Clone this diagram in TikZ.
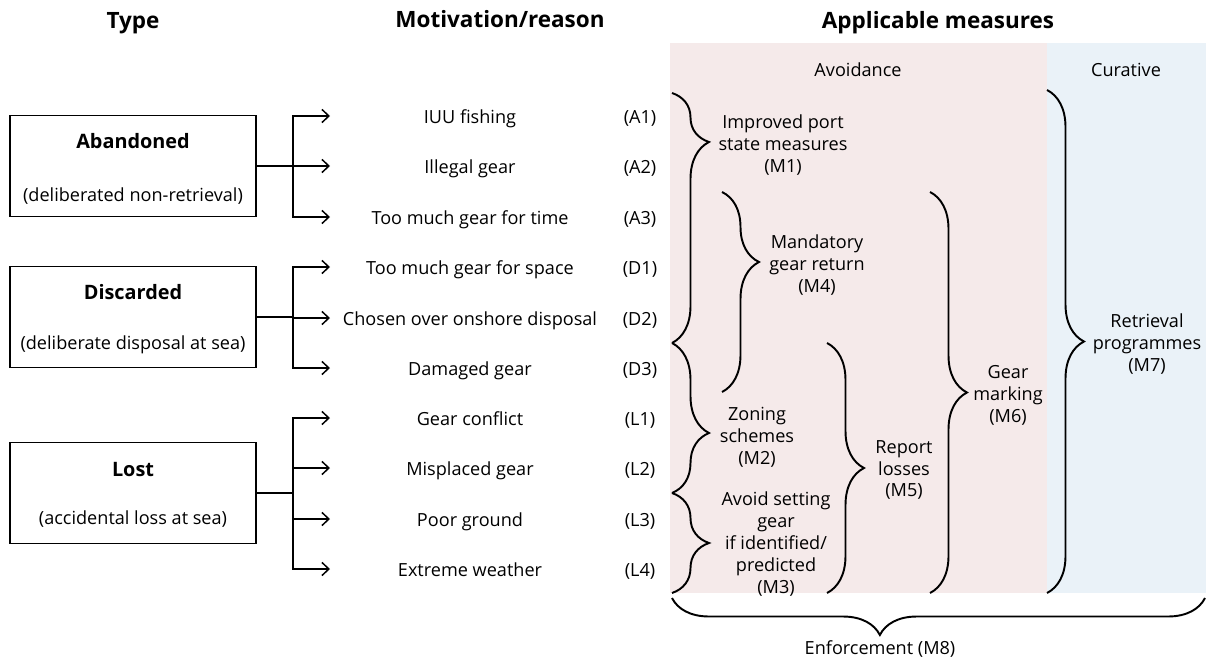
\documentclass[tikz,border=0pt]{standalone}
\usepackage{fontspec}
\setmainfont{Open Sans}
\usetikzlibrary{arrows.meta,decorations.pathreplacing,positioning,calc}
\definecolor{avoidpink}{RGB}{245,234,234}
\definecolor{curblue}{RGB}{234,242,248}
\tikzset{
  head/.style     = {font=\fontsize{12.8}{15}\selectfont\bfseries, anchor=mid},
  txt/.style      = {font=\fontsize{10.3}{12.5}\selectfont, align=center, inner sep=0pt},
  row/.style      = {txt, anchor=mid},
  typename/.style = {font=\fontsize{11.3}{13}\selectfont\bfseries, inner sep=0pt, anchor=mid},
  typebox/.style  = {draw, line width=0.85pt, rectangle, minimum width=4.92cm, minimum height=2.02cm},
  post/.style     = {-{Straight Barb[length=4pt,width=7.5pt]}, line width=0.85pt},
  trunk/.style    = {line width=0.85pt},
  bracket/.style  = {decorate, line width=1.1pt, decoration={brace, amplitude=0.74cm, aspect=#1}},
  bracket/.default = 0.5
}

\begin{document}
\begin{tikzpicture}[x=0.02cm, y=-0.02cm]
  \useasboundingbox (0,0) rectangle (1206,659);
  % shaded columns
  \fill[avoidpink] (670,43) rectangle (1047,593);
  \fill[curblue] (1047,43) rectangle (1206,593);

  % column heads
  \node[head] (h-type) at (133,24) {Type};
  \node[head] (h-mot) at (500,23) {Motivation/reason};
  \node[head] (h-meas) at (938,24) {Applicable measures};
  \node[row] (avoid) at (858,71.5) {Avoidance};
  \node[row] (cure) at (1126,71.5) {Curative};

  % types
  \node[typebox] (aband) at (133,166) {};
  \node[typename] (aband-name) at ([yshift=0.44cm]aband.center) {Abandoned};
  \node[row] (aband-note) at ([yshift=-0.61cm]aband.center) {(deliberated non-retrieval)};
  \node[typebox] (disc) at (133,317) {};
  \node[typename] (disc-name) at ([yshift=0.45cm]disc.center) {Discarded};
  \node[row] (disc-note) at ([yshift=-0.56cm]disc.center) {(deliberate disposal at sea)};
  \node[typebox] (lost) at (133,493) {};
  \node[typename] (lost-name) at ([yshift=0.42cm]lost.center) {Lost};
  \node[row] (lost-note) at ([yshift=-0.54cm]lost.center) {(accidental loss at sea)};

  % motivations
  \foreach \y/\reason/\code in {116/IUU fishing/A1, 166/Illegal gear/A2, 217/Too much gear for time/A3,
      267/Too much gear for space/D1, 318/Chosen over onshore disposal/D2, 368/Damaged gear/D3,
      418/Gear conflict/L1, 468/Misplaced gear/L2, 519/Poor ground/L3, 569/Extreme weather/L4} {
    \node[row] (mot-\code) at (470,\y+3) {\reason};
    \node[row] (code-\code) at (640,\y+3) {(\code)};
    \coordinate (in-\code) at (330,\y);
  }

  % type -> motivation
  \coordinate (split-a) at (293,166);
  \coordinate (split-d) at (293,317);
  \coordinate (split-l) at (293,493);
  \draw[trunk] (aband.east) -- (split-a);
  \draw[trunk] (disc.east) -- (split-d);
  \draw[trunk] (lost.east) -- (split-l);
  \foreach \code in {A1,A2,A3} \draw[post] (split-a) |- (in-\code);
  \foreach \code in {D1,D2,D3} \draw[post] (split-d) |- (in-\code);
  \foreach \code in {L1,L2,L3,L4} \draw[post] (split-l) |- (in-\code);

  % measures
  \draw[bracket=0.196] (672,93) -- (672,343);
  \draw[bracket=0.6] (672,343) -- (672,493);
  \draw[bracket] (672,493) -- (672,593);
  \draw[bracket=0.35] (722,192) -- (722,392);
  \draw[bracket] (827,343) -- (827,593);
  \draw[bracket] (930,192) -- (930,593);
  \draw[bracket] (1047,90) -- (1047,593);
  \draw[bracket=0.61] (1205,598) -- (672,598);

  \node[txt] (m1) at (783,145) {Improved port\\state measures\\(M1)};
  \node[txt] (m2) at (757,437) {Zoning\\schemes\\(M2)};
  \node[txt] (m3) at (776,544) {Avoid setting\\gear\\if identified/\\predicted\\(M3)};
  \node[txt] (m4) at (817,265) {Mandatory\\gear return\\(M4)};
  \node[txt] (m5) at (904,470) {Report\\losses\\(M5)};
  \node[txt] (m6) at (1008,395) {Gear\\marking\\(M6)};
  \node[txt] (m7) at (1147,344) {Retrieval\\programmes\\(M7)};
  \node[row] (m8) at (880,650) {Enforcement (M8)};
\end{tikzpicture}
\end{document}
